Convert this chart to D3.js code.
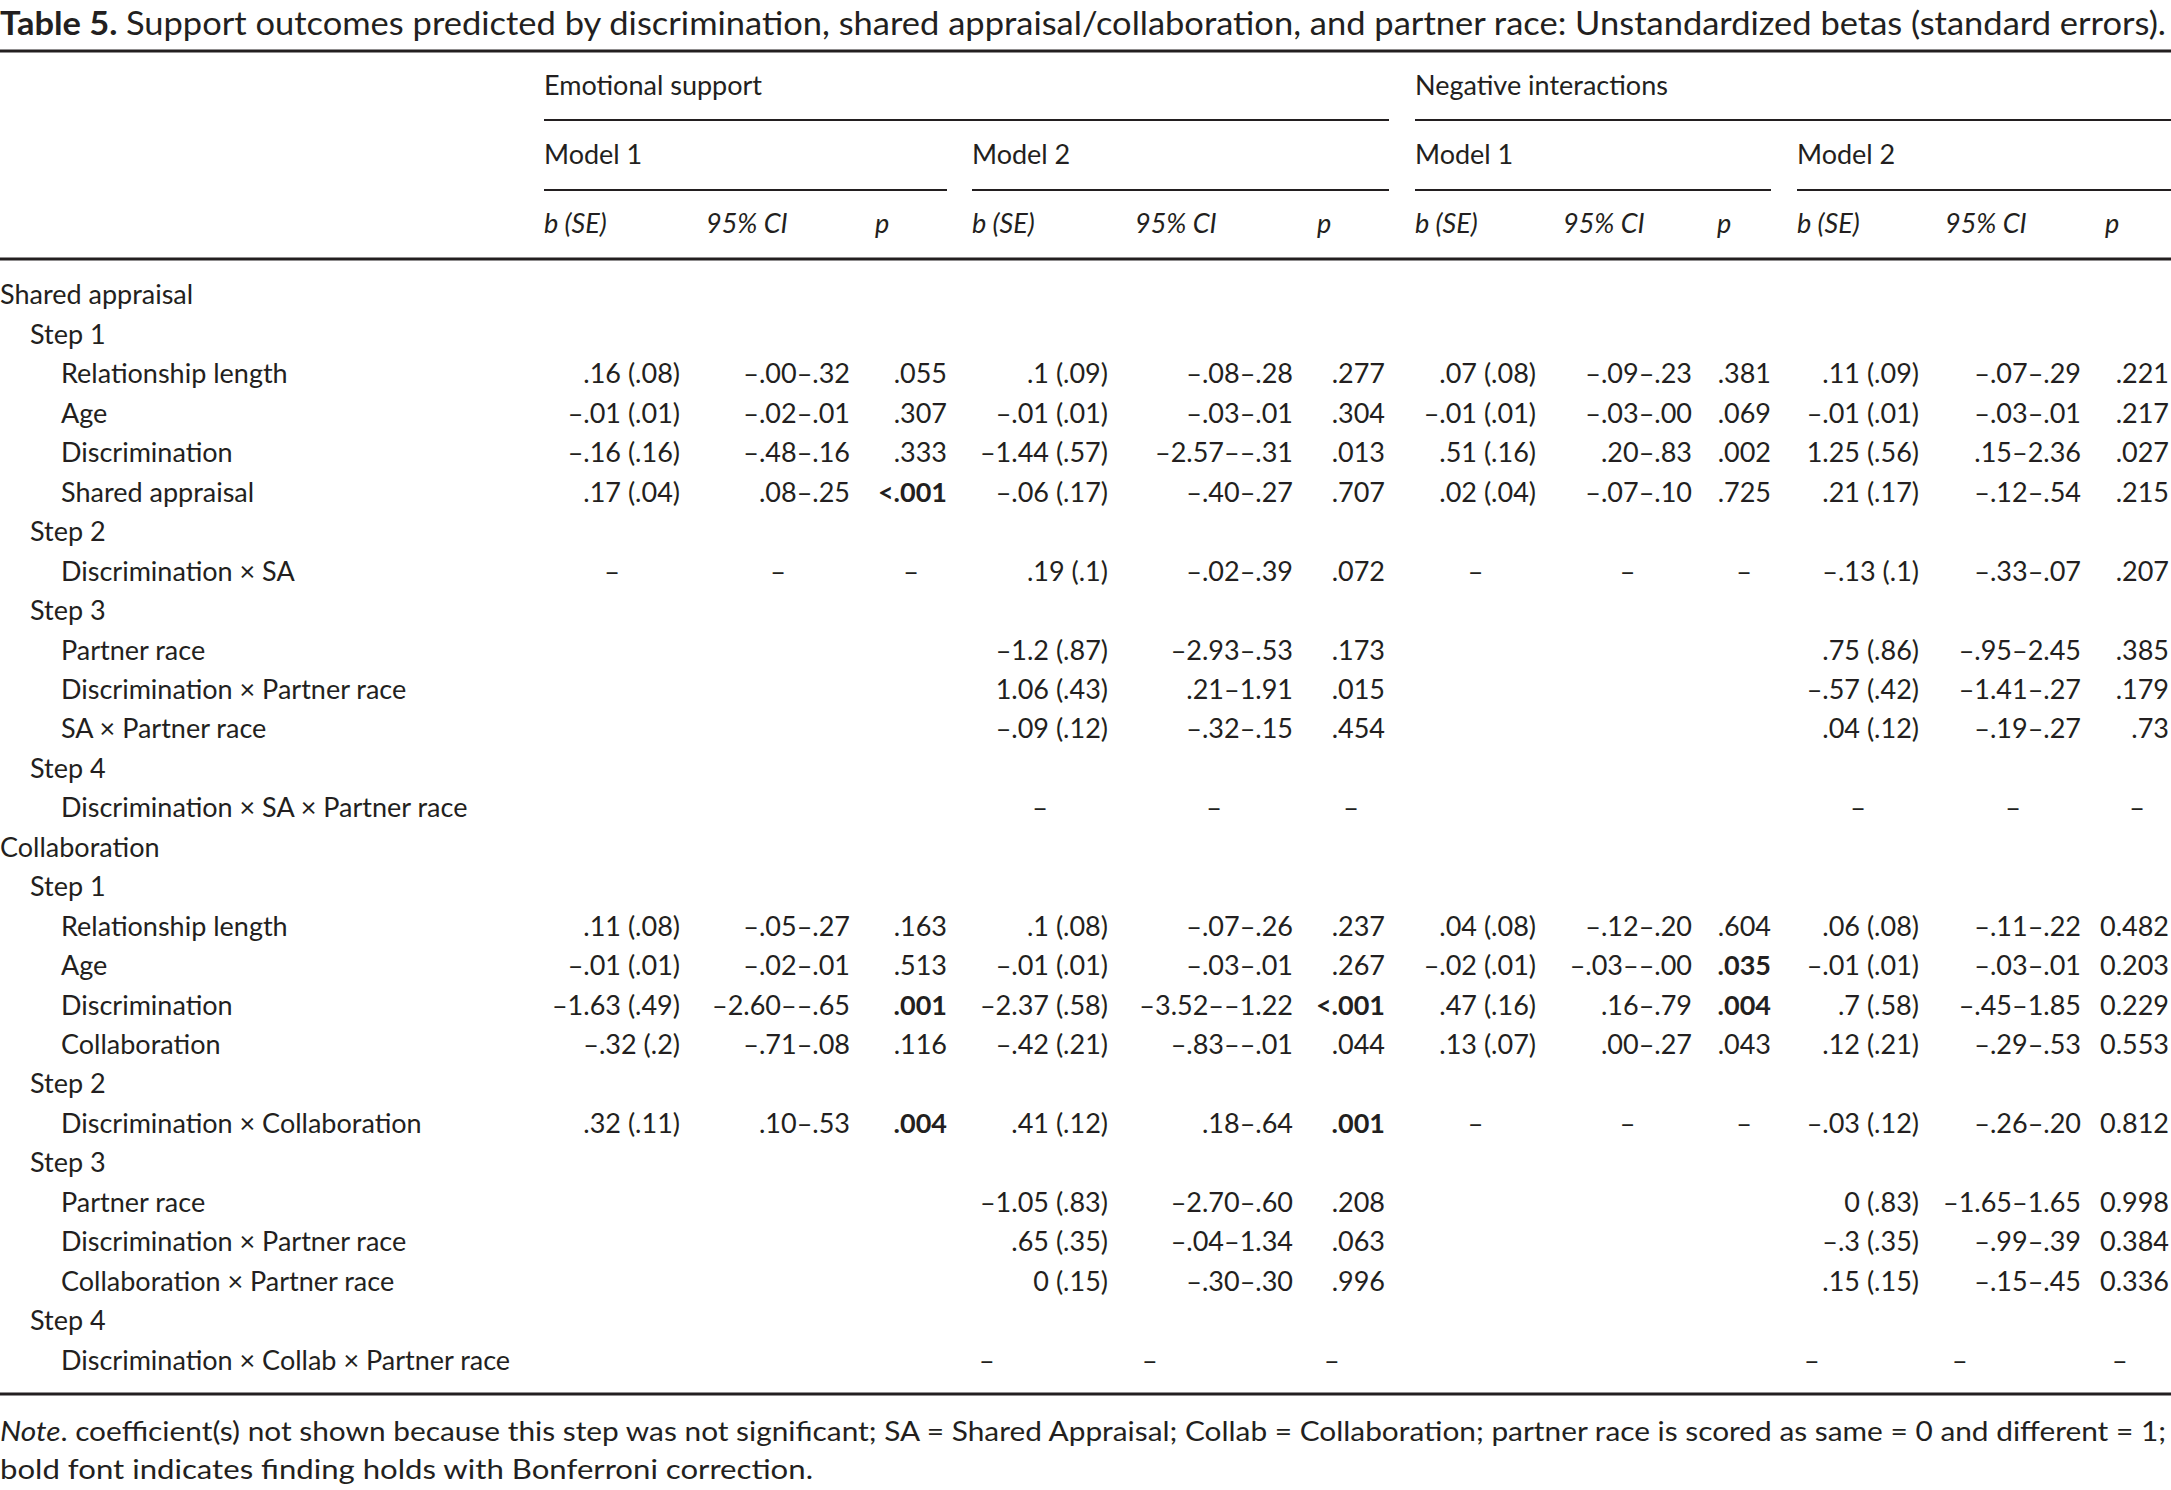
<!DOCTYPE html>
<html>
<head>
<meta charset="utf-8">
<script src="https://d3js.org/d3.v7.min.js"></script>
<style>
  body { margin: 0; background: #fff; }
  text { font-family: Lato, "Open Sans", sans-serif; fill: #231f20; }
</style>
</head>
<body>
<svg id="table5" width="2171" height="1490"></svg>
<script>
var titleBold = "Table 5.";
var titleText = "Support outcomes predicted by discrimination, shared appraisal/collaboration, and partner race: Unstandardized betas (standard errors).";
var outcomes = ["Emotional support", "Negative interactions"];
var models = ["Model 1", "Model 2", "Model 1", "Model 2"];
var statHeads = ["b (SE)", "95% CI", "p"];

var rowLabels = [
  "Shared appraisal", "Step 1", "Relationship length", "Age", "Discrimination", "Shared appraisal",
  "Step 2", "Discrimination × SA",
  "Step 3", "Partner race", "Discrimination × Partner race", "SA × Partner race",
  "Step 4", "Discrimination × SA × Partner race",
  "Collaboration", "Step 1", "Relationship length", "Age", "Discrimination", "Collaboration",
  "Step 2", "Discrimination × Collaboration",
  "Step 3", "Partner race", "Discrimination × Partner race", "Collaboration × Partner race",
  "Step 4", "Discrimination × Collab × Partner race"
];
var rowLevels = [0,1,2,2,2,2, 1,2, 1,2,2,2, 1,2, 0,1,2,2,2,2, 1,2, 1,2,2,2, 1,2];

// p values starting with "*" are set in bold
var esModel1 = [
  null, null,
  [".16 (.08)", "–.00–.32", ".055"],
  ["–.01 (.01)", "–.02–.01", ".307"],
  ["–.16 (.16)", "–.48–.16", ".333"],
  [".17 (.04)", ".08–.25", "*<.001"],
  null, ["–", "–", "–"],
  null, null, null, null,
  null, null,
  null, null,
  [".11 (.08)", "–.05–.27", ".163"],
  ["–.01 (.01)", "–.02–.01", ".513"],
  ["–1.63 (.49)", "–2.60––.65", "*.001"],
  ["–.32 (.2)", "–.71–.08", ".116"],
  null, [".32 (.11)", ".10–.53", "*.004"],
  null, null, null, null,
  null, null
];
var esModel2 = [
  null, null,
  [".1 (.09)", "–.08–.28", ".277"],
  ["–.01 (.01)", "–.03–.01", ".304"],
  ["–1.44 (.57)", "–2.57––.31", ".013"],
  ["–.06 (.17)", "–.40–.27", ".707"],
  null, [".19 (.1)", "–.02–.39", ".072"],
  null,
  ["–1.2 (.87)", "–2.93–.53", ".173"],
  ["1.06 (.43)", ".21–1.91", ".015"],
  ["–.09 (.12)", "–.32–.15", ".454"],
  null, ["–", "–", "–"],
  null, null,
  [".1 (.08)", "–.07–.26", ".237"],
  ["–.01 (.01)", "–.03–.01", ".267"],
  ["–2.37 (.58)", "–3.52––1.22", "*<.001"],
  ["–.42 (.21)", "–.83––.01", ".044"],
  null, [".41 (.12)", ".18–.64", "*.001"],
  null,
  ["–1.05 (.83)", "–2.70–.60", ".208"],
  [".65 (.35)", "–.04–1.34", ".063"],
  ["0 (.15)", "–.30–.30", ".996"],
  null, ["–", "–", "–"]
];
var niModel1 = [
  null, null,
  [".07 (.08)", "–.09–.23", ".381"],
  ["–.01 (.01)", "–.03–.00", ".069"],
  [".51 (.16)", ".20–.83", ".002"],
  [".02 (.04)", "–.07–.10", ".725"],
  null, ["–", "–", "–"],
  null, null, null, null,
  null, null,
  null, null,
  [".04 (.08)", "–.12–.20", ".604"],
  ["–.02 (.01)", "–.03––.00", "*.035"],
  [".47 (.16)", ".16–.79", "*.004"],
  [".13 (.07)", ".00–.27", ".043"],
  null, ["–", "–", "–"],
  null, null, null, null,
  null, null
];
var niModel2 = [
  null, null,
  [".11 (.09)", "–.07–.29", ".221"],
  ["–.01 (.01)", "–.03–.01", ".217"],
  ["1.25 (.56)", ".15–2.36", ".027"],
  [".21 (.17)", "–.12–.54", ".215"],
  null, ["–.13 (.1)", "–.33–.07", ".207"],
  null,
  [".75 (.86)", "–.95–2.45", ".385"],
  ["–.57 (.42)", "–1.41–.27", ".179"],
  [".04 (.12)", "–.19–.27", ".73"],
  null, ["–", "–", "–"],
  null, null,
  [".06 (.08)", "–.11–.22", "0.482"],
  ["–.01 (.01)", "–.03–.01", "0.203"],
  [".7 (.58)", "–.45–1.85", "0.229"],
  [".12 (.21)", "–.29–.53", "0.553"],
  null, ["–.03 (.12)", "–.26–.20", "0.812"],
  null,
  ["0 (.83)", "–1.65–1.65", "0.998"],
  ["–.3 (.35)", "–.99–.39", "0.384"],
  [".15 (.15)", "–.15–.45", "0.336"],
  null, ["–", "–", "–"]
];
var noteLine1 = "coefficient(s) not shown because this step was not significant; SA = Shared Appraisal; Collab = Collaboration; partner race is scored as same = 0 and different = 1;";
var noteLine2 = "bold font indicates finding holds with Bonferroni correction.";

// ---- layout ----
var svg = d3.select("#table5");
var W = 2171, fs = 27;
var ink = "#231f20";

// column left (header) and right edges, in px
var colLeft  = [544, 706, 875,  972, 1135, 1317,  1415, 1563, 1717,  1797, 1945, 2105];
var colRight = [680, 850, 947, 1108, 1293, 1385,  1536, 1692, 1771,  1919, 2081, 2169];
var indent = [0, 30, 61];

var y = d3.scalePoint().domain(d3.range(rowLabels.length)).range([295, 295 + 27 * 39.45]);

function rule(x1, x2, yy, w) {
  svg.append("line").attr("x1", x1).attr("x2", x2).attr("y1", yy).attr("y2", yy)
    .attr("stroke", ink).attr("stroke-width", w);
}

// title
var t = svg.append("text").attr("x", 0).attr("y", 35).attr("font-size", 33)
  .attr("textLength", 2166).attr("lengthAdjust", "spacingAndGlyphs");
t.append("tspan").attr("font-weight", "bold").text(titleBold + "  ");
t.append("tspan").text(titleText);

rule(0, W, 51, 3);
rule(0, W, 259, 3);
rule(0, W, 1394, 3);

// outcome headers
[[544, 1389], [1415, W]].forEach(function (s, i) {
  svg.append("text").attr("x", s[0]).attr("y", 86).attr("dy", "0.35em")
    .attr("font-size", fs).text(outcomes[i]);
  rule(s[0], s[1], 120, 2);
});

// model headers
[[544, 947], [972, 1389], [1415, 1771], [1797, W]].forEach(function (s, i) {
  svg.append("text").attr("x", s[0]).attr("y", 155).attr("dy", "0.35em")
    .attr("font-size", fs).text(models[i]);
  rule(s[0], s[1], 190, 2);
});

// stat headers
colLeft.forEach(function (x, i) {
  svg.append("text").attr("x", x).attr("y", 224).attr("dy", "0.35em")
    .attr("font-size", fs).attr("font-style", "italic").text(statHeads[i % 3]);
});

// row labels
svg.selectAll("text.lab").data(rowLabels).enter().append("text")
  .attr("class", "lab")
  .attr("x", function (d, i) { return indent[rowLevels[i]]; })
  .attr("y", function (d, i) { return y(i); })
  .attr("dy", "0.35em").attr("font-size", fs)
  .text(function (d) { return d; });

// cells
var lastRow = rowLabels.length - 1;
[esModel1, esModel2, niModel1, niModel2].forEach(function (block, bi) {
  block.forEach(function (cells, ri) {
    if (!cells) return;
    cells.forEach(function (v, ci) {
      var c = bi * 3 + ci;
      var bold = v.charAt(0) === "*";
      var txt = bold ? v.slice(1) : v;
      var x, anchor;
      if (txt === "–") {
        if (ri === lastRow) { x = colLeft[c] + 7; anchor = "start"; }
        else { x = (colLeft[c] + colRight[c]) / 2; anchor = "middle"; }
      } else { x = colRight[c]; anchor = "end"; }
      svg.append("text").attr("x", x).attr("y", y(ri)).attr("dy", "0.35em")
        .attr("font-size", fs).attr("text-anchor", anchor)
        .attr("font-weight", bold ? "bold" : null).text(txt);
    });
  });
});

// note
var n1 = svg.append("text").attr("x", 0).attr("y", 1432).attr("dy", "0.35em").attr("font-size", fs)
  .attr("textLength", 2166).attr("lengthAdjust", "spacingAndGlyphs");
n1.append("tspan").attr("font-style", "italic").text("Note");
n1.append("tspan").text(". " + noteLine1);
svg.append("text").attr("x", 0).attr("y", 1470).attr("dy", "0.35em").attr("font-size", fs)
  .attr("textLength", 813).attr("lengthAdjust", "spacingAndGlyphs").text(noteLine2);
</script>
</body>
</html>
